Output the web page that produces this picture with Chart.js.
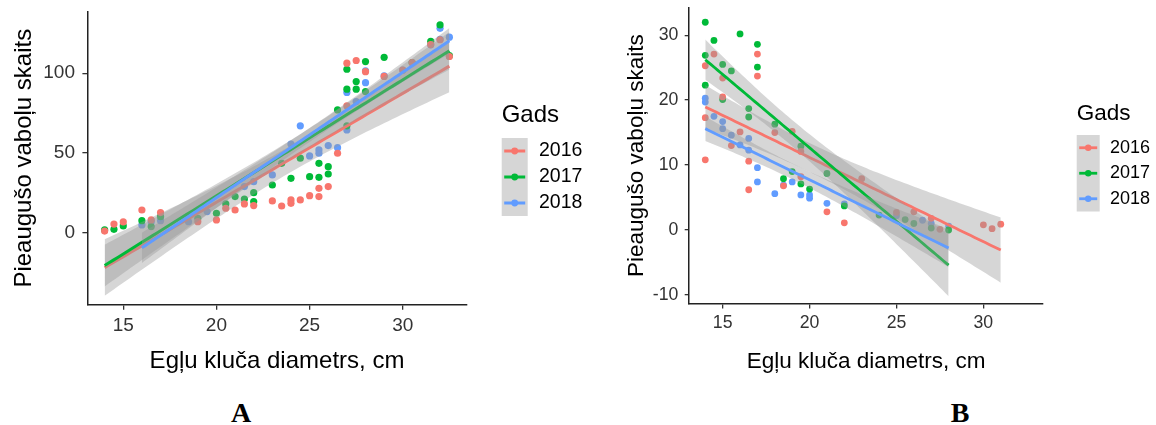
<!DOCTYPE html>
<html>
<head>
<meta charset="utf-8">
<script src="https://cdn.jsdelivr.net/npm/chart.js@4.4.0/dist/chart.umd.min.js"></script>
<style>
  html, body { margin: 0; padding: 0; background: #fff; }
  body { width: 1156px; height: 425px; position: relative; overflow: hidden; }
  #wrapA { position: absolute; left: 0; top: 0; width: 600px; height: 390px; }
  #wrapB { position: absolute; left: 600px; top: 0; width: 556px; height: 390px; }
  .panel-tag {
    position: absolute;
    font-family: "Liberation Serif", "Times New Roman", serif;
    font-weight: bold;
    font-size: 28px;
    line-height: 28px;
    transform: translateX(-50%);
    color: #000;
  }
</style>
</head>
<body>
<div id="wrapA"><canvas id="chartA" width="600" height="390"></canvas></div>
<div id="wrapB"><canvas id="chartB" width="556" height="390"></canvas></div>
<div class="panel-tag" style="left:241px; top:399px;">A</div>
<div class="panel-tag" style="left:960px; top:399px;">B</div>

<script>
const FONT = '"Liberation Sans", Arial, Helvetica, sans-serif';

// Legend groups and their colours
const years = ['2016', '2017', '2018'];
const yearColors = ['#F8766D', '#00BA38', '#619CFF'];

// Axis ticks
const xTicks = [15, 20, 25, 30];
const yTicksA = [0, 50, 100];
const yTicksB = [-10, 0, 10, 20, 30];

// Panel A: beetle counts vs log diameter
const diamA2016  = [14, 14.5, 15, 16, 16.5, 17, 19, 20, 20.5, 21, 21.5, 22, 23, 23.5, 24, 24, 24.5, 25, 25.5, 25.5, 26, 26.5, 27, 27, 27.5, 28, 29, 30, 30.5, 31.5, 32, 32.5];
const countA2016 = [1, 5.4, 6.7, 14.2, 8, 12.6, 6.9, 8, 15.3, 14.2, 18, 17, 19.9, 16.7, 20.5, 18.4, 20.5, 23.2, 22.6, 27.8, 28.9, 49.8, 106.3, 79.5, 108, 101, 98, 102, 106.7, 118, 121, 110.5];

const diamA2017  = [14, 14.5, 15, 16, 16.5, 17, 19, 20, 20.5, 21, 21.5, 22, 22, 23, 23.5, 24, 24.5, 25, 25.5, 25.5, 26, 26, 26.5, 27, 27, 27, 27.5, 27.5, 28, 28, 29, 30.5, 31.5, 32, 32.5];
const countA2017 = [1.7, 2.1, 4.2, 7.5, 3.8, 10, 9, 12.1, 18, 22.6, 21.1, 25.1, 19.5, 29.9, 43.5, 34.1, 46.7, 35.1, 43.5, 34.7, 41.4, 36.8, 77, 102.5, 90, 67, 94.8, 90, 107.3, 88.5, 110, 106.7, 120, 130.3, 111];

const diamA2018  = [16, 16.5, 17, 18.5, 19.5, 21.5, 22, 23, 24, 24.5, 25, 25.5, 25.5, 26, 26.5, 27, 27, 27.5, 28, 28, 29, 30, 31.5, 32, 32, 32.5];
const countA2018 = [4.8, 6.9, 7.5, 6.9, 13.2, 28.9, 32, 36.2, 55.6, 67, 48.1, 51.9, 49.8, 54.6, 53.3, 87.9, 64.4, 82.2, 101.5, 94.1, 98.3, 102, 117.8, 128.2, 121.3, 122.6];

// Panel B
const diamB2016  = [14, 14, 14, 14.5, 15, 15, 15.5, 16, 16.5, 16.5, 17, 17, 18, 18.5, 19, 19.5, 19.5, 21, 22, 23, 25, 26, 27, 27.5, 30, 30.5, 31];
const countB2016 = [25.3, 17.3, 10.8, 27.1, 23.4, 20.5, 13, 15.1, 10.6, 6.2, 27.1, 23.7, 15, 6.8, 15.2, 12.1, 8.2, 2.8, 1.1, 7.9, 2.7, 2.8, 1.8, 0.1, 0.8, 0.2, 0.9];

const diamB2017  = [14, 14, 14, 14.5, 15, 15, 15.5, 16, 16.5, 16.5, 17, 17, 18, 18.5, 19, 19.5, 19.5, 20, 21, 22, 24, 25.5, 26, 27, 28];
const countB2017 = [32, 26.9, 22.3, 29.2, 25.5, 20.1, 24.5, 30.2, 18.7, 17.4, 28.6, 25.1, 16.3, 7.9, 9, 12.9, 7.1, 6.3, 8.7, 3.7, 2.3, 1.6, 1, 0.3, 0];

const diamB2018  = [14, 14, 14.5, 15, 15, 15.5, 16, 16.5, 16.5, 17, 17, 18, 18.5, 19, 19.5, 20, 20, 21, 22, 25, 26.5, 27, 28];
const countB2018 = [20.3, 19.7, 17.5, 16.7, 15.6, 14.6, 13.1, 14.1, 12.3, 9.6, 7.4, 5.6, 6.9, 7.4, 5.4, 5.4, 4.9, 4.1, 4, 2.2, 1.5, 1.0, 0.6];

// 97.5% Student t quantile (Cornish-Fisher expansion)
function tQuantile975(df) {
  const z = 1.959964;
  const g1 = (z ** 3 + z) / 4;
  const g2 = (5 * z ** 5 + 16 * z ** 3 + 3 * z) / 96;
  const g3 = (3 * z ** 7 + 19 * z ** 5 + 17 * z ** 3 - 15 * z) / 384;
  return z + g1 / df + g2 / df ** 2 + g3 / df ** 3;
}

// Least-squares line with its 95% confidence band over the group's x range
function lmBand(xs, ys, steps = 80) {
  const n = xs.length;
  const mx = xs.reduce((a, b) => a + b, 0) / n;
  const my = ys.reduce((a, b) => a + b, 0) / n;
  let sxx = 0, sxy = 0;
  for (let i = 0; i < n; i++) { sxx += (xs[i] - mx) ** 2; sxy += (xs[i] - mx) * (ys[i] - my); }
  const b = sxy / sxx, a = my - b * mx;
  let sse = 0;
  for (let i = 0; i < n; i++) sse += (ys[i] - a - b * xs[i]) ** 2;
  const s2 = sse / (n - 2);
  const t = tQuantile975(n - 2);
  const xmin = Math.min(...xs), xmax = Math.max(...xs);
  const fit = [], lo = [], hi = [];
  for (let i = 0; i < steps; i++) {
    const x = xmin + (xmax - xmin) * i / (steps - 1);
    const yh = a + b * x;
    const se = Math.sqrt(s2 * (1 / n + (x - mx) ** 2 / sxx));
    fit.push({ x, y: yh });
    lo.push({ x, y: yh - t * se });
    hi.push({ x, y: yh + t * se });
  }
  return { fit, lo, hi };
}

function buildDatasets(groups, pointR, lineW) {
  const ds = [];
  groups.forEach((g, i) => {
    ds.push({
      type: 'scatter', label: years[i],
      data: g.x.map((x, j) => ({ x, y: g.y[j] })),
      backgroundColor: yearColors[i], borderWidth: 0,
      pointRadius: pointR, pointHoverRadius: pointR, order: 100
    });
  });
  groups.forEach((g, i) => {
    const band = lmBand(g.x, g.y);
    const base = 60 - i * 20;
    ds.push({ type: 'line', data: band.hi, borderColor: 'rgba(0,0,0,0)', borderWidth: 0,
              pointRadius: 0, fill: false, order: base });
    ds.push({ type: 'line', data: band.lo, borderColor: 'rgba(0,0,0,0)', borderWidth: 0,
              pointRadius: 0, fill: '-1', backgroundColor: 'rgba(153,153,153,0.4)', order: base });
    ds.push({ type: 'line', data: band.fit, borderColor: yearColors[i], borderWidth: lineW,
              pointRadius: 0, fill: false, order: base - 10 });
  });
  return ds;
}

// Legend drawn in ggplot style: title, grey key boxes with line + dot
const gadsLegend = {
  id: 'gadsLegend',
  afterDraw(chart, args, o) {
    const ctx = chart.ctx;
    ctx.save();
    ctx.textAlign = 'left';
    ctx.textBaseline = 'middle';
    ctx.fillStyle = '#000';
    ctx.font = `${o.titleSize}px ${FONT}`;
    ctx.fillText('Gads', o.x, o.titleY);
    ctx.fillStyle = '#D6D6D6';
    ctx.fillRect(o.x, o.keyTop, o.keyW, o.keyH * years.length);
    years.forEach((yr, i) => {
      const cy = o.keyTop + o.keyH * (i + 0.5);
      ctx.strokeStyle = yearColors[i];
      ctx.lineWidth = o.lineW;
      ctx.beginPath();
      ctx.moveTo(o.x + 2.5, cy);
      ctx.lineTo(o.x + o.keyW - 2.5, cy);
      ctx.stroke();
      ctx.fillStyle = yearColors[i];
      ctx.beginPath();
      ctx.arc(o.x + o.keyW / 2, cy, o.dotR, 0, Math.PI * 2);
      ctx.fill();
      ctx.fillStyle = '#000';
      ctx.font = `${o.labelSize}px ${FONT}`;
      ctx.fillText(yr, o.labelX, cy);
    });
    ctx.restore();
  }
};

function makeChart(id, cfg) {
  const groups = cfg.groups;
  return new Chart(document.getElementById(id), {
    type: 'scatter',
    data: { datasets: buildDatasets(groups, cfg.pointR, cfg.lineW) },
    plugins: [gadsLegend],
    options: {
      responsive: false,
      animation: false,
      devicePixelRatio: 1,
      events: [],
      layout: { padding: { left: 0, top: cfg.padTop, right: cfg.padRight, bottom: 0 } },
      plugins: {
        legend: { display: false },
        tooltip: { enabled: false },
        gadsLegend: cfg.legend
      },
      scales: {
        x: {
          type: 'linear', min: cfg.xMin, max: cfg.xMax,
          afterBuildTicks: s => { s.ticks = xTicks.map(v => ({ value: v })); },
          afterFit: s => { s.height = cfg.xH; s.paddingLeft = 0; s.paddingRight = 0; s.paddingTop = 0; s.paddingBottom = 0; },
          grid: { display: true, drawOnChartArea: false, drawTicks: true, tickLength: cfg.tick, color: '#333', lineWidth: 1.3 },
          border: { display: true, color: '#222', width: 1.5 },
          ticks: { font: { family: FONT, size: cfg.tickSize }, color: '#333', padding: cfg.xPad, maxRotation: 0, autoSkip: false },
          title: { display: true, text: 'Egļu kluča diametrs, cm', color: '#000',
                   font: { family: FONT, size: cfg.titleSize }, padding: { top: 0, bottom: cfg.xTitlePad } }
        },
        y: {
          type: 'linear', min: cfg.yMin, max: cfg.yMax,
          afterBuildTicks: s => { s.ticks = cfg.yTicks.map(v => ({ value: v })); },
          afterFit: s => { s.width = cfg.yW; s.paddingLeft = 0; s.paddingRight = 0; s.paddingTop = 0; s.paddingBottom = 0; },
          grid: { display: true, drawOnChartArea: false, drawTicks: true, tickLength: cfg.tick, color: '#333', lineWidth: 1.3 },
          border: { display: true, color: '#222', width: 1.5 },
          ticks: { font: { family: FONT, size: cfg.tickSize }, color: '#333', padding: cfg.yPad, autoSkip: false },
          title: { display: true, text: 'Pieaugušo vaboļu skaits', color: '#000',
                   font: { family: FONT, size: cfg.titleSize }, padding: { top: cfg.yTitlePad, bottom: 0 } }
        }
      }
    }
  });
}

makeChart('chartA', {
  groups: [
    { x: diamA2016, y: countA2016 },
    { x: diamA2017, y: countA2017 },
    { x: diamA2018, y: countA2018 }
  ],
  xMin: 13.075, xMax: 33.425, yMin: -45.2, yMax: 138.6,
  yTicks: yTicksA,
  padTop: 11.7, padRight: 133.4, xH: 85.3, yW: 87.4,
  tick: 5, tickSize: 19, titleSize: 24, xPad: 4.6, yPad: 7.4,
  xTitlePad: 14.6, yTitlePad: 10.3,
  pointR: 3.6, lineW: 3,
  legend: { x: 501.7, titleY: 115, titleSize: 24, keyTop: 138, keyW: 26, keyH: 26,
            labelX: 539, labelSize: 19.5, lineW: 3, dotR: 3.4 }
});

makeChart('chartB', {
  groups: [
    { x: diamB2016, y: countB2016 },
    { x: diamB2017, y: countB2017 },
    { x: diamB2018, y: countB2018 }
  ],
  xMin: 13.075, xMax: 33.425, yMin: -11.4, yMax: 34.3,
  yTicks: yTicksB,
  padTop: 7.3, padRight: 113.1, xH: 86, yW: 89.2,
  tick: 4.5, tickSize: 17.7, titleSize: 22.5, xPad: 4.2, yPad: 6.4,
  xTitlePad: 14.3, yTitlePad: 23.7,
  pointR: 3.4, lineW: 2.8,
  legend: { x: 476.7, titleY: 113.3, titleSize: 22.5, keyTop: 135, keyW: 23, keyH: 25.5,
            labelX: 510, labelSize: 18, lineW: 2.8, dotR: 3.2 }
});
</script>
</body>
</html>
